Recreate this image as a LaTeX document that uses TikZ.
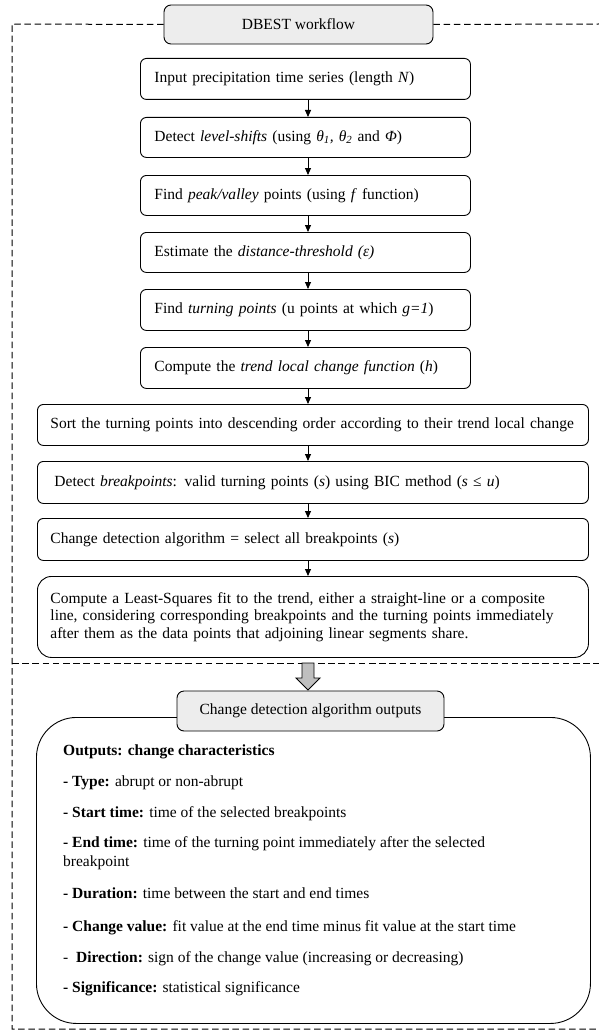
\documentclass[tikz,border=0pt]{standalone}
\usepackage{fontspec}
\setmainfont{Liberation Serif}
\usetikzlibrary{arrows.meta}
\begin{document}
\begin{tikzpicture}[x=1pt,y=-1pt,
  flowbox/.style={draw, line width=0.9pt, rounded corners=6pt, align=left,
    inner xsep=14pt, inner ysep=0pt, anchor=north west,
    font=\fontsize{15.5}{17.5}\selectfont},
  widebox/.style={flowbox, inner xsep=12pt},
  headbox/.style={draw, line width=0.9pt, rounded corners=7pt, fill=black!7,
    inner sep=0pt, align=center, font=\fontsize{15.5}{18}\selectfont},
  arr/.style={line width=0.9pt, -{Triangle[length=7pt,width=6pt]}},
  frame/.style={line width=1pt, black, dash pattern=on 6.5pt off 3.7pt},
  outtext/.style={anchor=base west, inner sep=0pt, align=left,
    font=\fontsize{15.5}{19.5}\selectfont},
  blockarr/.style={line width=0.9pt, fill=black!25, line join=miter}
]
\useasboundingbox (0,0) rectangle (599,1030);

% headline box
\node[headbox, minimum width=269pt, minimum height=39pt] (title) at (298.5,24.5) {DBEST workflow};

% flow boxes
\node[flowbox, text width=302pt, minimum height=41pt] (b1) at (140,58)
  {Input precipitation time series (length \textit{N})};
\node[flowbox, text width=302pt, minimum height=40pt] (b2) at (140,117)
  {Detect \textit{level-shifts} (using \textit{θ\textsubscript{1}, θ\textsubscript{2}} and \textit{Φ})};
\node[flowbox, text width=302pt, minimum height=40pt] (b3) at (140,175)
  {Find \textit{peak/valley} points (using \textit{f} function)};
\node[flowbox, text width=302pt, minimum height=40pt] (b4) at (140,232)
  {Estimate the \textit{distance-threshold (ε)}};
\node[flowbox, text width=302pt, minimum height=41pt] (b5) at (140,289)
  {Find \textit{turning points} (u points at which \textit{g=1})};
\node[flowbox, text width=302pt, minimum height=41pt] (b6) at (140,347)
  {Compute the \textit{trend local change function} (\textit{h})};
\node[widebox, text width=527pt, minimum height=41pt] (b7) at (37,404)
  {\mbox{\hspace{1pt}Sort the turning points into descending order according to their trend local change}};
\node[widebox, text width=527pt, minimum height=42pt] (b8) at (37,461)
  {\hspace{5pt}Detect \textit{breakpoints}: valid turning points (\textit{s}) using BIC method (\textit{s} ≤ \textit{u})};
\node[widebox, text width=527pt, minimum height=42pt] (b9) at (37,518)
  {\hspace{1pt}Change detection algorithm = select all breakpoints (\textit{s})};
\node[widebox, text width=527pt, minimum height=81pt, rounded corners=14pt] (b10) at (37,576)
  {\hspace{1pt}Compute a Least-Squares fit to the trend, either a straight-line or a composite\\
   \hspace*{1pt}line, considering corresponding breakpoints and the turning points immediately\\
   \hspace*{1pt}after them as the data points that adjoining linear segments share.};

% arrows
\coordinate (ax) at (308,0);
\draw[arr] (b1.south -| ax) -- (b2.north -| ax);
\draw[arr] (b2.south -| ax) -- (b3.north -| ax);
\draw[arr] (b3.south -| ax) -- (b4.north -| ax);
\draw[arr] (b4.south -| ax) -- (b5.north -| ax);
\draw[arr] (b5.south -| ax) -- (b6.north -| ax);
\draw[arr] (b6.south -| ax) -- (b7.north -| ax);
\draw[arr] (b7.south -| ax) -- (b8.north -| ax);
\draw[arr] (b8.south -| ax) -- (b9.north -| ax);
\draw[arr] (b9.south -| ax) -- (b10.north -| ax);

% dashed frame
\coordinate (tl) at (12,24);
\coordinate (tr) at (599,24);
\coordinate (ml) at (12,663);
\coordinate (mr) at (599,663);
\coordinate (bl) at (12,1029);
\coordinate (br) at (599,1029);
\draw[frame] (title.west) -- (tl) -- (bl) -- (br);
\draw[frame] (title.east) -- (tr);
\draw[frame] (ml) -- (mr);

% outputs box
\node[draw, line width=0.9pt, rounded corners=40pt, minimum width=554pt,
  minimum height=306pt, inner sep=0pt, anchor=north west] (outbox) at (36,717) {};
\node[headbox, minimum width=267pt, minimum height=40pt] (outtitle) at (310.5,711)
  {Change detection algorithm outputs};

% block arrow
\begin{scope}[shift={(308,663)}]
\draw[blockarr] (-6,0) -- (6,0) -- (6,15) -- (12,15) -- (0,27) -- (-12,15) -- (-6,15) -- cycle;
\end{scope}

% output texts
\node[outtext] (o1) at (63,755) {\textbf{Outputs: change characteristics}};
\node[outtext] (o2) at (63,786) {\textbf{- Type:} abrupt or non-abrupt};
\node[outtext] (o3) at (63,817) {\textbf{- Start time:} time of the selected breakpoints};
\node[outtext, anchor=north west] (o4) at (63,836) {\textbf{- End time:} time of the turning point immediately after the selected\\breakpoint};
\node[outtext] (o5) at (63,898) {\textbf{- Duration:} time between the start and end times};
\node[outtext] (o6) at (63,931) {\textbf{- Change value:} fit value at the end time minus fit value at the start time};
\node[outtext] (o7) at (63,962) {-\ \ \textbf{Direction:} sign of the change value (increasing or decreasing)};
\node[outtext] (o8) at (63,992) {\textbf{- Significance:} statistical significance};
\end{tikzpicture}
\end{document}
